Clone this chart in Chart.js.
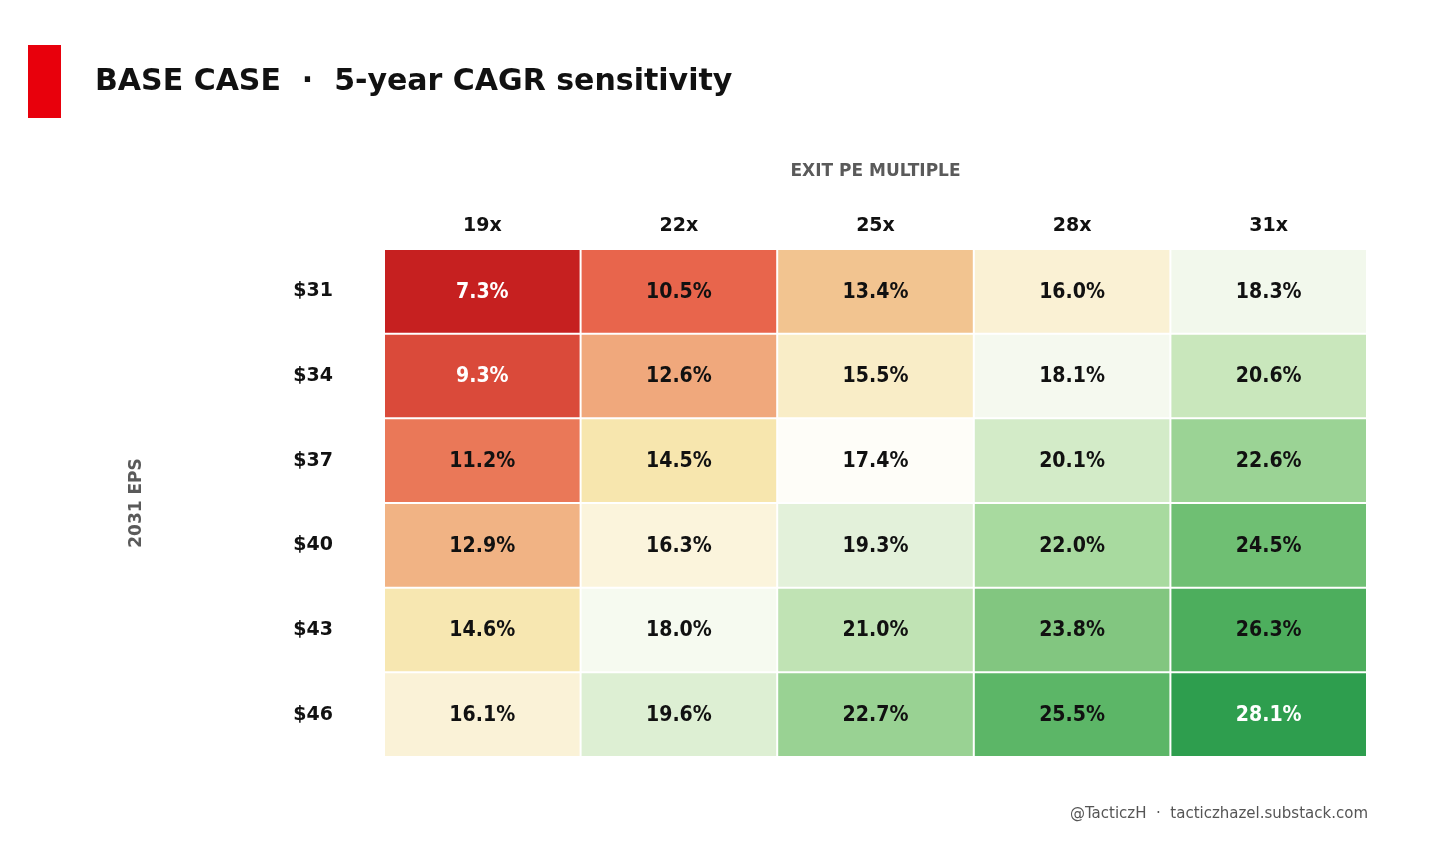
<!DOCTYPE html>
<html>
<head>
<meta charset="utf-8">
<script src="https://cdn.jsdelivr.net/npm/chart.js@4.4.1/dist/chart.umd.min.js"></script>
<style>
html,body{margin:0;padding:0;background:#fff;}
canvas{display:block;}
</style>
</head>
<body>
<canvas id="c" width="1456" height="863"></canvas>
<script>
// ---- data ----
const peMultiples = ['19x', '22x', '25x', '28x', '31x'];
const epsLabels = ['$31', '$34', '$37', '$40', '$43', '$46'];
const cagr31 = [7.3, 10.5, 13.4, 16.0, 18.3];
const cagr34 = [9.3, 12.6, 15.5, 18.1, 20.6];
const cagr37 = [11.2, 14.5, 17.4, 20.1, 22.6];
const cagr40 = [12.9, 16.3, 19.3, 22.0, 24.5];
const cagr43 = [14.6, 18.0, 21.0, 23.8, 26.3];
const cagr46 = [16.1, 19.6, 22.7, 25.5, 28.1];
const cagrRows = [cagr31, cagr34, cagr37, cagr40, cagr43, cagr46];

const titleText = 'BASE CASE  \u00b7  5-year CAGR sensitivity';
const footerText = '@TacticzH  \u00b7  tacticzhazel.substack.com';
const xTitle = 'EXIT PE MULTIPLE';
const yTitle = '2031 EPS';

// ---- colour scale (RdYlGn-like) ----
const stops = [
  [7.3,'#c62020'],[9.3,'#da4a3a'],[10.5,'#e8654c'],[11.2,'#ea7858'],[12.6,'#f0a87c'],
  [13.4,'#f2c490'],[14.5,'#f7e6ae'],[16.0,'#faf1d4'],[17.4,'#fefdf8'],[18.3,'#f2f8ec'],
  [19.3,'#e3f1da'],[20.6,'#c9e7bc'],[22.0,'#a8da9f'],[23.8,'#82c680'],[24.5,'#6fbf73'],
  [26.3,'#4dae5d'],[28.1,'#2e9e4e']
];
function hex(h){return [1,3,5].map(i=>parseInt(h.substr(i,2),16));}
function colorFor(v){
  if (v <= stops[0][0]) return stops[0][1];
  for (let i=1;i<stops.length;i++){
    if (v <= stops[i][0]) {
      const [v0,c0]=stops[i-1],[v1,c1]=stops[i];
      const t=(v-v0)/(v1-v0); const a=hex(c0), b=hex(c1);
      return 'rgb('+a.map((x,k)=>Math.round(x+(b[k]-x)*t)).join(',')+')';
    }
  }
  return stops[stops.length-1][1];
}
function textColorFor(v){ return (v < 10 || v > 27) ? '#ffffff' : '#111111'; }

const FONT = '"DejaVu Sans", sans-serif';

const datasets = cagrRows.map((row, r) => ({
  label: epsLabels[r],
  data: row.map(() => 1),
  values: row,
  backgroundColor: row.map(colorFor),
  borderColor: '#ffffff',
  borderWidth: 1,
  borderSkipped: false,
  inflateAmount: 0,
  barPercentage: 1,
  categoryPercentage: 1
}));

const cellLabels = {
  id: 'cellLabels',
  afterDatasetsDraw(chart) {
    const ctx = chart.ctx;
    chart.data.datasets.forEach((ds, di) => {
      const meta = chart.getDatasetMeta(di);
      meta.data.forEach((el, i) => {
        const {x, y, base} = el.getProps(['x','y','base'], true);
        const v = ds.values[i];
        ctx.save();
        ctx.translate(x, (y + base) / 2 + 1);
        ctx.scale(1, 1.08);
        ctx.font = 'bold 19px ' + FONT;
        ctx.textAlign = 'center';
        ctx.textBaseline = 'middle';
        ctx.fillStyle = textColorFor(v);
        ctx.fillText(v.toFixed(1) + '%', 0, 0);
        ctx.restore();
      });
    });
  }
};

const decor = {
  id: 'decor',
  beforeDraw(chart) {
    const ctx = chart.ctx;
    ctx.save();
    ctx.fillStyle = '#ffffff';
    ctx.fillRect(0, 0, chart.width, chart.height);
    ctx.fillStyle = '#e8000c';
    ctx.fillRect(28, 45, 33, 73);
    ctx.fillStyle = '#111111';
    ctx.font = 'bold 30px ' + FONT;
    ctx.textAlign = 'left';
    ctx.textBaseline = 'alphabetic';
    ctx.fillText(titleText, 95, 90);
    ctx.fillStyle = '#555555';
    ctx.font = '15px ' + FONT;
    ctx.textAlign = 'right';
    ctx.fillText(footerText, chart.chartArea.right + 1, 818);
    ctx.restore();
  }
};

new Chart(document.getElementById('c'), {
  type: 'bar',
  data: { labels: peMultiples, datasets },
  options: {
    responsive: false,
    animation: false,
    devicePixelRatio: 1,
    layout: { padding: { left: 0, top: 0, right: 89, bottom: 106 } },
    plugins: { legend: { display: false }, tooltip: { enabled: false } },
    scales: {
      x: {
        position: 'top',
        stacked: true,
        grid: { display: false, drawTicks: false },
        border: { display: false },
        ticks: { color: '#111111', font: { family: FONT, size: 19, weight: 'bold' }, padding: 12 },
        title: { display: true, text: xTitle, color: '#5a5a5a', font: { family: FONT, size: 17, weight: 'bold' }, padding: { top: 161 } },
        afterFit(s) { s.height = 249; }
      },
      y: {
        stacked: true,
        reverse: true,
        min: 0,
        max: 6,
        grid: { display: false, drawTicks: false },
        border: { display: false },
        afterBuildTicks(s) { s.ticks = epsLabels.map((_, i) => ({ value: i + 0.5 })); },
        ticks: {
          color: '#111111',
          font: { family: FONT, size: 19, weight: 'bold' },
          padding: 51,
          callback: (v) => epsLabels[Math.floor(v)]
        },
        title: { display: true, text: yTitle, color: '#5a5a5a', font: { family: FONT, size: 17, weight: 'bold' }, padding: { top: 126 } },
        afterFit(s) { s.width = 384; }
      }
    }
  },
  plugins: [decor, cellLabels]
});
</script>
</body>
</html>
